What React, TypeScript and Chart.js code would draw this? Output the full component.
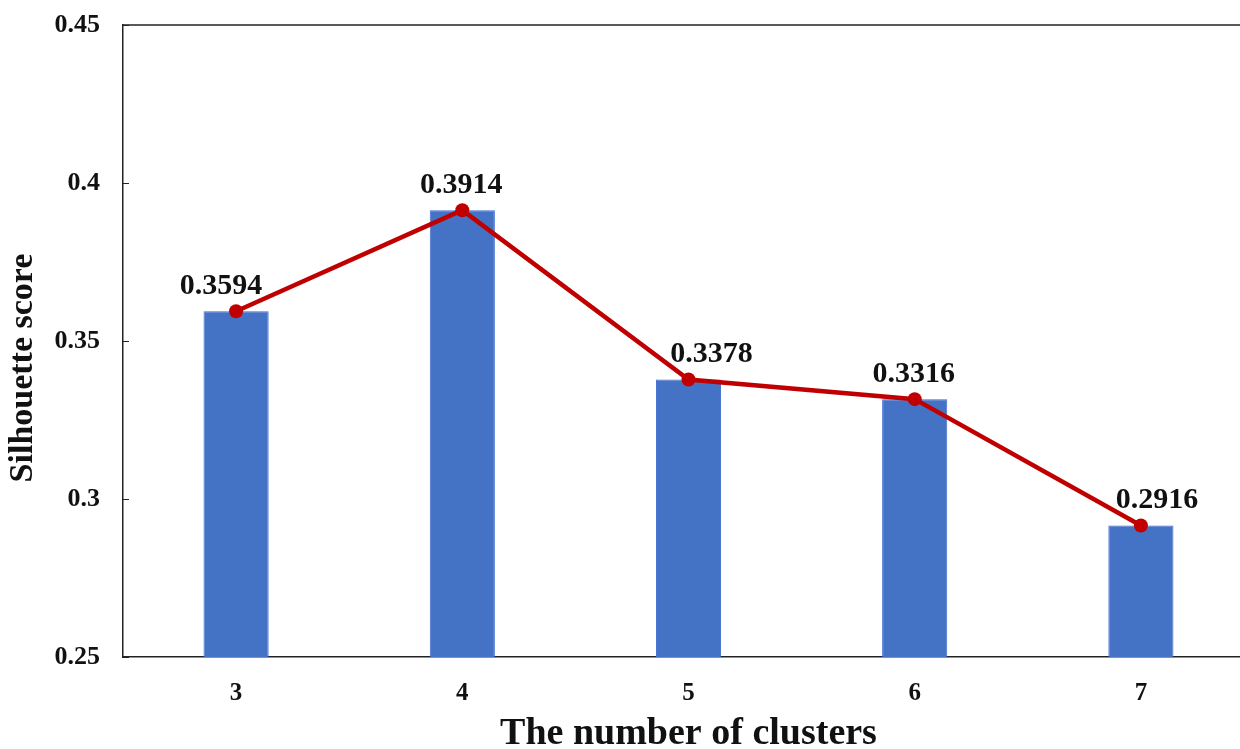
import React, { useEffect, useRef } from "react";
import { Chart, registerables } from "chart.js";

Chart.register(...registerables);

const categories = ["3", "4", "5", "6", "7"];
const scores = [0.3594, 0.3914, 0.3378, 0.3316, 0.2916];
const scoreLabels = ["0.3594", "0.3914", "0.3378", "0.3316", "0.2916"];
const yTickValues = [0.25, 0.3, 0.35, 0.4, 0.45];
const labelShiftX = [-15, -1, 23, -1, 16];

const xTitle = "The number of clusters";
const yTitle = "Silhouette score";

const FONT = "'Liberation Serif', 'Times New Roman', serif";

const decorPlugin = {
  id: "decor",
  afterDraw(chart: any) {
    const { ctx, chartArea, scales } = chart;
    const y = scales.y;
    ctx.save();
    // top border
    ctx.strokeStyle = "#222";
    ctx.lineWidth = 1.5;
    ctx.beginPath();
    ctx.moveTo(chartArea.left, chartArea.top);
    ctx.lineTo(chart.width, chartArea.top);
    ctx.stroke();
    // inner ticks
    ctx.lineWidth = 1;
    yTickValues.forEach((v) => {
      const py = Math.round(y.getPixelForValue(v)) + 0.5;
      ctx.beginPath();
      ctx.moveTo(chartArea.left, py);
      ctx.lineTo(chartArea.left + 6, py);
      ctx.stroke();
    });
    // data labels
    const meta = chart.getDatasetMeta(1);
    ctx.fillStyle = "#111";
    ctx.font = `bold 30px ${FONT}`;
    ctx.textAlign = "center";
    ctx.textBaseline = "middle";
    meta.data.forEach((pt: any, i: number) => {
      ctx.fillText(scoreLabels[i], pt.x + labelShiftX[i], pt.y - 25);
    });
    // axis titles
    ctx.font = `bold 38px ${FONT}`;
    ctx.fillText(xTitle, (chartArea.left + chartArea.right) / 2, 734);
    ctx.save();
    ctx.translate(23, 368);
    ctx.rotate(-Math.PI / 2);
    ctx.font = `bold 34px ${FONT}`;
    ctx.fillText(yTitle, 0, 0);
    ctx.restore();
    ctx.restore();
  },
};

export default function App() {
  const ref = useRef<HTMLCanvasElement>(null);
  useEffect(() => {
    if (!ref.current) return;
    const chart = new Chart(ref.current, {
      type: "bar",
      data: {
        labels: categories,
        datasets: [
          {
            type: "bar",
            data: scores,
            backgroundColor: "#4472C4",
            borderColor: "#3E6BD0",
            borderWidth: 1,
            barPercentage: 0.288,
            categoryPercentage: 1,
            order: 1,
          },
          {
            type: "line",
            data: scores,
            borderColor: "#C00000",
            backgroundColor: "#C00000",
            borderWidth: 4.5,
            pointRadius: 7,
            pointBackgroundColor: "#C00000",
            pointBorderWidth: 0,
            tension: 0,
            order: 0,
          },
        ],
      },
      options: {
        responsive: false,
        animation: false,
        layout: { padding: { top: 25, right: 0, left: 0, bottom: 0 } },
        plugins: { legend: { display: false }, tooltip: { enabled: false } },
        scales: {
          x: {
            grid: { display: false, drawTicks: false },
            border: { display: true, color: "#222", width: 1.5 },
            ticks: {
              color: "#111",
              font: { family: FONT, size: 25, weight: "bold" },
              padding: 22,
            },
            afterFit(scale: any) {
              scale.height = 92;
            },
          },
          y: {
            min: 0.25,
            max: 0.45,
            grid: { display: false, drawTicks: false },
            border: { display: true, color: "#222", width: 1.5 },
            afterBuildTicks(scale: any) {
              scale.ticks = yTickValues.map((v) => ({ value: v }));
            },
            ticks: {
              color: "#111",
              font: { family: FONT, size: 26, weight: "bold" },
              padding: 23,
              callback: (v: any) => String(Number(v)),
            },
            afterFit(scale: any) {
              scale.width = 123;
              scale.paddingTop = 0;
              scale.paddingBottom = 0;
            },
          },
        },
      },
      plugins: [decorPlugin],
    });
    return () => chart.destroy();
  }, []);
  return (
    <div style={{ position: "fixed", left: 0, top: 0, width: 1240, height: 749, overflow: "hidden", background: "#fff" }}>
      <canvas ref={ref} width={1261} height={749} style={{ display: "block" }} />
    </div>
  );
}
